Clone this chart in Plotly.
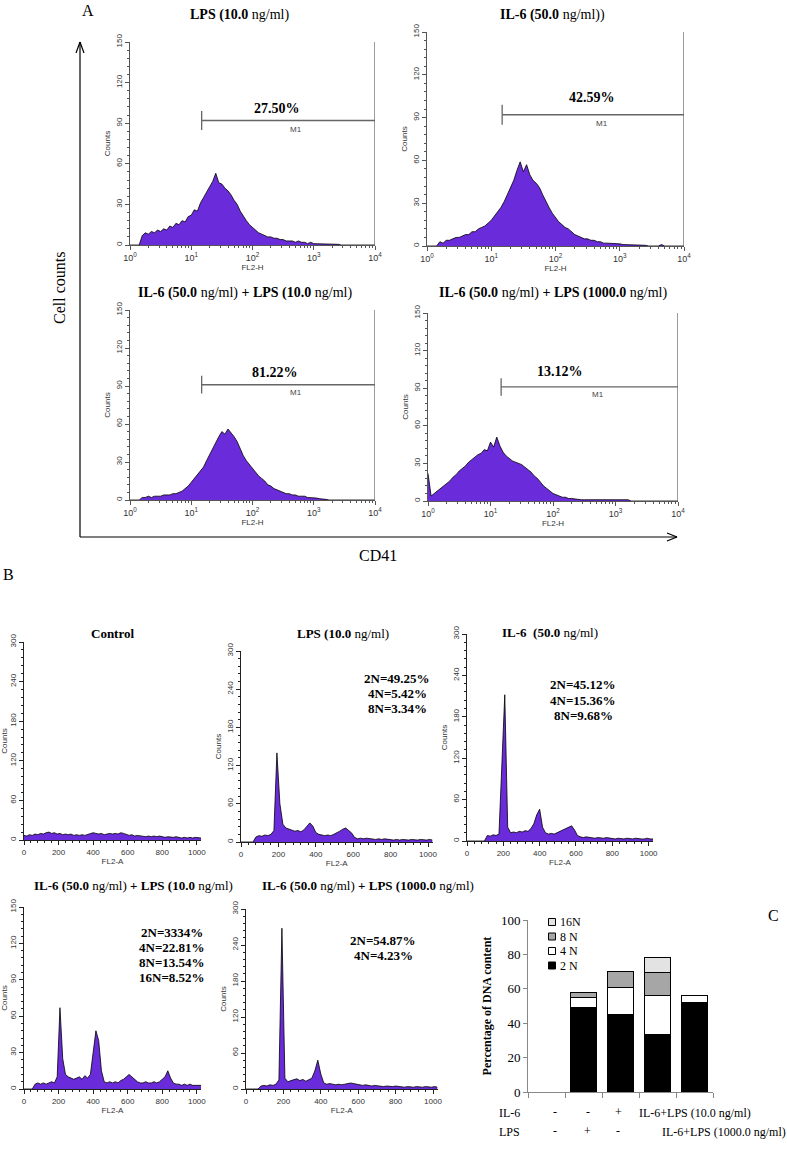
import math
import plotly.graph_objects as go

W, H = 787, 1155


def px(x):
    return x / W


def py(y):
    return 1 - y / H


# ---------------- Panel A data: CD41 (FL2-H), bins in log10 decades ----------------
a_log_bins = [0.00, 0.05, 0.10, 0.15, 0.20, 0.25, 0.30, 0.35, 0.40, 0.45,
              0.50, 0.55, 0.60, 0.65, 0.70, 0.75, 0.80, 0.85, 0.90, 0.95,
              1.00, 1.05, 1.10, 1.15, 1.20, 1.25, 1.30, 1.35, 1.40, 1.45,
              1.50, 1.55, 1.60, 1.65, 1.70, 1.75, 1.80, 1.85, 1.90, 1.95,
              2.00, 2.05, 2.10, 2.15, 2.20, 2.25, 2.30, 2.35, 2.40, 2.45,
              2.50, 2.55, 2.60, 2.65, 2.70, 2.75, 2.80, 2.85, 2.90, 2.95,
              3.00, 3.05, 3.10, 3.15, 3.20, 3.25, 3.30, 3.35, 3.40, 3.45,
              3.50, 3.55, 3.60, 3.65, 3.70, 3.75, 3.80, 3.85, 3.90, 3.95,
              4.00]

a_counts_lps10 = [0, 0, 0, 0, 7, 9, 8, 10, 9, 11,
                  10, 12, 11, 14, 13, 16, 15, 18, 17, 21,
                  22, 26, 25, 31, 35, 39, 42, 47, 53, 46,
                  45, 42, 40, 37, 33, 30, 25, 21, 18, 15,
                  13, 11, 9, 8, 7, 6, 6, 5, 5, 4,
                  4, 3, 3, 3, 2, 3, 2, 2, 1, 2,
                  1, 1, 1, 1, 1, 1, 0.5, 1, 0.5, 0,
                  0, 0, 0, 0, 0, 0, 0, 0, 0, 0,
                  0]
a_counts_il6 = [0, 0, 0, 0, 3, 2, 4, 4, 5, 6,
                6, 7, 8, 8, 10, 10, 12, 13, 14, 16,
                18, 21, 24, 27, 31, 36, 42, 46, 53, 59,
                52, 57, 50, 46, 44, 41, 36, 31, 27, 23,
                20, 17, 15, 13, 12, 10, 8, 7, 6, 5,
                5, 4, 4, 3, 3, 2, 2, 2, 1.5, 1.5,
                1.5, 1, 1, 1, 1, 0.5, 0.5, 0.5, 0.5, 0,
                0, 0, 0, 1, 0, 0, 0, 0, 0, 0,
                0]
a_counts_il6_lps10 = [0, 0, 0, 0, 2, 2, 3, 2, 3, 3,
                      3, 4, 4, 4, 5, 5, 6, 7, 9, 11,
                      14, 17, 20, 23, 26, 31, 36, 41, 46, 50,
                      54, 52, 56, 53, 50, 46, 40, 35, 31, 28,
                      25, 22, 19, 17, 15, 12, 11, 9, 8, 7,
                      6, 5, 5, 4, 4, 3, 3, 3, 2, 2,
                      2, 1.5, 1, 1, 0.5, 0, 0, 0, 0, 0,
                      0, 0, 0, 0, 0, 0, 0, 0, 0, 0,
                      0]
a_counts_il6_lps1000 = [22, 4, 6, 8, 10, 12, 14, 16, 19, 21,
                        24, 26, 28, 31, 33, 35, 37, 38, 41, 40,
                        47, 43, 51, 44, 39, 36, 34, 32, 31, 30,
                        29, 27, 25, 23, 20, 18, 15, 12, 10, 8,
                        6, 5, 4, 3, 3, 2, 2, 1.5, 1.5, 1,
                        1, 1, 1, 1, 1, 0.5, 1, 0.5, 1, 0.5,
                        1, 0.5, 0.5, 0.5, 1, 0, 0, 0, 0, 0,
                        0, 0, 0, 0, 0, 0, 0, 0, 0, 0,
                        0]

a_titles = ["<b>LPS (10.0</b> ng/ml)",
            "<b>IL-6 (50.0</b> ng/ml))",
            "<b>IL-6 (50.0</b> ng/ml) <b>+ LPS (10.0</b> ng/ml)",
            "<b>IL-6 (50.0</b> ng/ml) <b>+ LPS (1000.0</b> ng/ml)"]
a_percent = ["27.50%", "42.59%", "81.22%", "13.12%"]
a_gate_start = [1.17, 1.17, 1.17, 1.17]   # log10 FL2-H of M1 left edge
a_gate_level = [92, 92, 91, 91]           # counts
a_xticks = [0, 1, 2, 3, 4]
a_xticktext = ["10<sup>0</sup>", "10<sup>1</sup>", "10<sup>2</sup>", "10<sup>3</sup>", "10<sup>4</sup>"]

# ---------------- Panel B data: DNA content (FL2-A, linear channels) ----------------
b_channels = [0, 16, 32, 48, 64, 80, 96, 112, 128, 144, 160, 176, 192,
              208, 224, 240, 256, 272, 288, 304, 320, 336, 352, 368, 384, 400,
              416, 432, 448, 464, 480, 496, 512, 528, 544, 560, 576, 592, 608,
              624, 640, 656, 672, 688, 704, 720, 736, 752, 768, 784, 800, 816,
              832, 848, 864, 880, 896, 912, 928, 944, 960, 976, 992, 1008, 1024]

b_counts_control = [7, 6, 8, 7, 9, 8, 10, 9, 11, 12, 10, 11, 9,
                    10, 8, 9, 8, 9, 7, 8, 7, 8, 7, 8, 9, 11,
                    10, 9, 10, 8, 9, 10, 9, 10, 9, 11, 10, 9, 7,
                    8, 6, 7, 6, 6, 5, 6, 5, 6, 5, 6, 5, 4,
                    5, 4, 4, 5, 4, 3, 4, 3, 4, 3, 4, 3, 3]
b_counts_lps10 = [0, 0, 0, 0, 0, 8, 10, 9, 11, 10, 12, 18, 140,
                  60, 28, 22, 20, 19, 17, 18, 16, 19, 24, 30, 25, 15,
                  12, 11, 10, 11, 10, 12, 14, 17, 20, 22, 18, 14, 7,
                  5, 6, 5, 6, 5, 5, 4, 5, 4, 5, 4, 4, 3,
                  4, 3, 4, 3, 3, 4, 3, 3, 4, 3, 3, 4, 3]
b_counts_il6 = [0, 0, 0, 0, 0, 0, 0, 8, 7, 9, 8, 10, 100,
                212, 20, 12, 13, 12, 14, 13, 15, 14, 18, 25, 38, 46,
                20, 12, 10, 11, 10, 12, 14, 17, 19, 21, 22, 16, 8,
                6, 5, 6, 5, 5, 4, 5, 4, 4, 5, 4, 4, 3,
                4, 3, 3, 4, 3, 3, 4, 3, 3, 3, 4, 3, 3]
b_counts_il6_lps10 = [0, 0, 0, 0, 4, 5, 4, 5, 4, 5, 6, 5, 10,
                      67, 25, 12, 10, 9, 8, 9, 10, 8, 11, 9, 12, 30,
                      48, 40, 15, 6, 5, 6, 5, 6, 5, 7, 8, 10, 12,
                      10, 8, 6, 5, 5, 6, 5, 5, 6, 5, 6, 8, 10,
                      15, 9, 5, 4, 4, 3, 4, 3, 4, 3, 3, 3, 3]
b_counts_il6_lps1000 = [0, 0, 0, 0, 0, 5, 6, 5, 7, 6, 8, 15, 268,
                        18, 12, 14, 15, 17, 14, 16, 13, 15, 18, 30, 48, 25,
                        10, 8, 9, 8, 7, 8, 7, 8, 9, 10, 9, 8, 7,
                        6, 7, 6, 5, 6, 5, 5, 4, 5, 4, 4, 5, 4,
                        4, 3, 4, 3, 3, 4, 3, 3, 4, 3, 3, 4, 3]

b_titles = ["<b>Control</b>",
            "<b>LPS (10.0</b> ng/ml)",
            "<b>IL-6  (50.0</b> ng/ml)",
            "<b>IL-6 (50.0</b> ng/ml) <b>+ LPS (10.0</b> ng/ml)",
            "<b>IL-6 (50.0</b> ng/ml) <b>+ LPS (1000.0</b> ng/ml)"]
b_ploidy_text = [[],
                 ["2N=49.25%", "4N=5.42%", "8N=3.34%"],
                 ["2N=45.12%", "4N=15.36%", "8N=9.68%"],
                 ["2N=3334%", "4N=22.81%", "8N=13.54%", "16N=8.52%"],
                 ["2N=54.87%", "4N=4.23%"]]
b_ymax = [300, 300, 300, 150, 300]

# ---------------- Panel C data: stacked ploidy percentages ----------------
c_groups = ["Control", "LPS", "IL-6", "IL-6+LPS (10.0 ng/ml)", "IL-6+LPS (1000.0 ng/ml)"]
c_2n = [None, 49.25, 45.12, 33.34, 52.3]
c_4n = [None, 5.42, 15.36, 22.81, 3.9]
c_8n = [None, 3.34, 9.68, 13.54, None]
c_16n = [None, None, None, 8.52, None]
c_series_names = ["2 N", "4 N", "8 N", "16N"]
c_il6_row = ["-", "-", "+"]
c_lps_row = ["-", "+", "-"]
c_yticks = [0, 20, 40, 60, 80, 100]

# ---------------- Styling ----------------
SANS = "Liberation Sans"
SERIF = "Liberation Serif"
PURPLE = "#6a2bdb"

fig = go.Figure()
layout = dict(width=W, height=H, margin=dict(l=0, r=0, t=0, b=0, autoexpand=False),
              paper_bgcolor="white", plot_bgcolor="white",
              showlegend=False, hovermode=False)
annotations = []
shapes = []


def refs(i):
    if i == 1:
        return "x", "y", "xaxis", "yaxis"
    return f"x{i}", f"y{i}", f"xaxis{i}", f"yaxis{i}"


def ann(x, y, text, size, family=SERIF, xanchor="center", yanchor="middle",
        angle=0, color="black"):
    annotations.append(dict(x=px(x), y=py(y), xref="paper", yref="paper", text=text,
                            showarrow=False, xanchor=xanchor, yanchor=yanchor,
                            textangle=angle,
                            font=dict(family=family, size=size, color=color)))


def pline(x0, y0, x1, y1, color="black", width=1.2):
    shapes.append(dict(type="line", xref="paper", yref="paper",
                       x0=px(x0), y0=py(y0), x1=px(x1), y1=py(y1),
                       line=dict(color=color, width=width)))


minor_log = [d + math.log10(m) for d in range(4) for m in range(2, 10)]


def axis_common(lc):
    return dict(showline=True, linecolor=lc, linewidth=1, ticks="outside", ticklen=4,
                tickwidth=1, tickcolor=lc, showgrid=False, zeroline=False,
                fixedrange=True, automargin=False,
                tickfont=dict(family=SANS, size=8, color="#333"))


# ---- Panel A subplots ----
a_series = [a_counts_lps10, a_counts_il6, a_counts_il6_lps10, a_counts_il6_lps1000]
a_boxes = [(130, 375, 245, 42), (427, 684, 246, 32), (130, 375, 500, 310), (428, 678, 501, 313)]
a_title_pos = [(240, 15), (552, 15), (245, 293), (553, 293)]
a_pct_pos = [(2.40, 101), (2.57, 104), (2.37, 101), (2.11, 103)]
a_m1_pos = [(2.71, 85), (2.72, 86), (2.71, 85), (2.72, 85)]
LC_A = "#555555"

for k in range(4):
    i = k + 1
    xr, yr, xk, yk = refs(i)
    x0, x1, yb, yt = a_boxes[k]
    fig.add_trace(go.Scatter(x=a_log_bins, y=a_series[k], mode="lines",
                             line=dict(color="black", width=0.8), fill="tozeroy",
                             fillcolor=PURPLE, xaxis=xr, yaxis=yr, name=a_titles[k]))
    xa = axis_common(LC_A)
    xa.update(domain=[px(x0), px(x1)], anchor=yr, range=[0, 4],
              tickmode="array", tickvals=a_xticks, ticktext=a_xticktext,
              tickfont=dict(family=SANS, size=9, color="#333"),
              minor=dict(tickmode="array", tickvals=minor_log, ticks="outside",
                         ticklen=2, tickcolor=LC_A),
              title=dict(text="FL2-H", font=dict(family=SANS, size=8, color="#333"),
                         standoff=0))
    ya = axis_common(LC_A)
    ya.update(domain=[py(yb), py(yt)], anchor=xr, range=[0, 150],
              tick0=0, dtick=30, tickangle=-90,
              minor=dict(dtick=6, ticks="outside", ticklen=2, tickcolor=LC_A),
              title=dict(text="Counts", font=dict(family=SANS, size=8, color="#333"),
                         standoff=2))
    layout[xk] = xa
    layout[yk] = ya
    # M1 gate marker
    g0 = a_gate_start[k]
    gy = a_gate_level[k]
    for (sx0, sy0, sx1, sy1) in [(g0, gy, 4, gy), (g0, gy - 7, g0, gy + 7), (4, 0, 4, 150)]:
        shapes.append(dict(type="line", xref=xr, yref=yr, x0=sx0, y0=sy0, x1=sx1, y1=sy1,
                           line=dict(color="#666666", width=1.3)))
    annotations.append(dict(x=a_pct_pos[k][0], y=a_pct_pos[k][1], xref=xr, yref=yr,
                            text="<b>" + a_percent[k] + "</b>", showarrow=False,
                            font=dict(family=SERIF, size=14, color="black")))
    annotations.append(dict(x=a_m1_pos[k][0], y=a_m1_pos[k][1], xref=xr, yref=yr,
                            text="M1", showarrow=False,
                            font=dict(family=SANS, size=8, color="#444")))
    ann(a_title_pos[k][0], a_title_pos[k][1], a_titles[k], 14)

# Panel A frame arrows and labels
pline(80, 537, 80, 42)
pline(80, 42, 76, 53)
pline(80, 42, 84, 53)
pline(80, 537, 677, 537)
pline(677, 537, 667, 533)
pline(677, 537, 667, 541)
ann(88, 10, "A", 16)
ann(60, 288, "Cell counts", 16, angle=-90)
ann(378, 555, "CD41", 16)

# ---- Panel B subplots ----
b_series = [b_counts_control, b_counts_lps10, b_counts_il6, b_counts_il6_lps10, b_counts_il6_lps1000]
b_boxes = [(24, 201, 840, 642), (241, 432.5, 842, 651), (467, 653, 841, 634),
           (24, 201, 1089, 907), (246, 437.5, 1089, 909)]
b_title_pos = [(112, 633), (343, 633), (550, 632), (133, 885), (368, 885)]
b_text_pos = [None, (397, 678, 15), (583, 684, 16), (172, 932, 15.3), (383, 940, 15)]
LC_B = "#222222"

for k in range(5):
    i = k + 5
    xr, yr, xk, yk = refs(i)
    x0, x1, yb, yt = b_boxes[k]
    fig.add_trace(go.Scatter(x=b_channels, y=b_series[k], mode="lines",
                             line=dict(color="black", width=0.8), fill="tozeroy",
                             fillcolor=PURPLE, xaxis=xr, yaxis=yr, name=b_titles[k]))
    xa = axis_common(LC_B)
    xa.update(domain=[px(x0), px(x1)], anchor=yr, range=[0, 1024],
              tick0=0, dtick=200,
              minor=dict(dtick=40, ticks="outside", ticklen=2, tickcolor=LC_B),
              title=dict(text="FL2-A", font=dict(family=SANS, size=8, color="#333"),
                         standoff=0))
    ymax = b_ymax[k]
    ya = axis_common(LC_B)
    ya.update(domain=[py(yb), py(yt)], anchor=xr, range=[0, ymax],
              tick0=0, dtick=ymax / 5, tickangle=-90,
              minor=dict(dtick=ymax / 25, ticks="outside", ticklen=2, tickcolor=LC_B),
              title=dict(text="Counts", font=dict(family=SANS, size=8, color="#333"),
                         standoff=2))
    layout[xk] = xa
    layout[yk] = ya
    ann(b_title_pos[k][0], b_title_pos[k][1], b_titles[k], 13)
    if b_text_pos[k] is not None:
        cx, cy, step = b_text_pos[k]
        for j, line in enumerate(b_ploidy_text[k]):
            ann(cx, cy + j * step, "<b>" + line + "</b>", 13)

ann(8, 574, "B", 16)

# ---- Panel C stacked bars ----
c_colors = ["#000000", "#ffffff", "#a6a6a6", "#e3e3e3"]
c_values = [c_2n, c_4n, c_8n, c_16n]
for name, vals, col in zip(c_series_names, c_values, c_colors):
    fig.add_trace(go.Bar(x=c_groups, y=vals, name=name, width=0.68,
                         marker=dict(color=col, line=dict(color="black", width=1)),
                         xaxis="x10", yaxis="y10"))
layout["barmode"] = "stack"
layout["xaxis10"] = dict(domain=[px(528), px(713)], anchor="y10", type="category",
                         range=[-0.5, 4.5], showline=True, linecolor="#888888",
                         ticks="outside", tickson="boundaries", ticklen=5,
                         tickcolor="#888888", showticklabels=False, showgrid=False,
                         fixedrange=True, automargin=False)
layout["yaxis10"] = dict(domain=[py(1092), py(920)], anchor="x10", range=[0, 100],
                         tickmode="array", tickvals=c_yticks, showline=True,
                         linecolor="#888888", ticks="outside", ticklen=4,
                         tickcolor="#888888", showgrid=False, zeroline=False,
                         fixedrange=True, automargin=False,
                         tickfont=dict(family=SERIF, size=13, color="black"),
                         title=dict(text="<b>Percentage of DNA content</b>",
                                    font=dict(family=SERIF, size=12, color="black"),
                                    standoff=6))

# manual legend (top to bottom: 16N, 8 N, 4 N, 2 N)
leg_y = [922, 936.5, 951, 965.5]
for yy, name, col in zip(leg_y, c_series_names[::-1], c_colors[::-1]):
    shapes.append(dict(type="rect", xref="paper", yref="paper",
                       x0=px(548.5), x1=px(555.5), y0=py(yy + 3.5), y1=py(yy - 3.5),
                       fillcolor=col, line=dict(color="black", width=1)))
    ann(557.5, yy, name, 12, xanchor="left")

ann(773, 915, "C", 16)

# treatment rows under panel C
ann(510, 1113, "IL-6", 12)
ann(510, 1132, "LPS", 12)
for xx, s in zip([555, 588, 618], c_il6_row):
    ann(xx, 1112, s, 12)
for xx, s in zip([555, 587, 618], c_lps_row):
    ann(xx, 1131, s, 12)
ann(637, 1113, "IL-6+LPS (10.0 ng/ml)", 12, xanchor="left")
ann(660, 1132, "IL-6+LPS (1000.0 ng/ml)", 12, xanchor="left")

layout["annotations"] = annotations
layout["shapes"] = shapes
fig.update_layout(**layout)
fig.write_html("out.html", config={"displayModeBar": False},
               post_script="document.body.style.margin='0';document.body.style.overflow='hidden';")
